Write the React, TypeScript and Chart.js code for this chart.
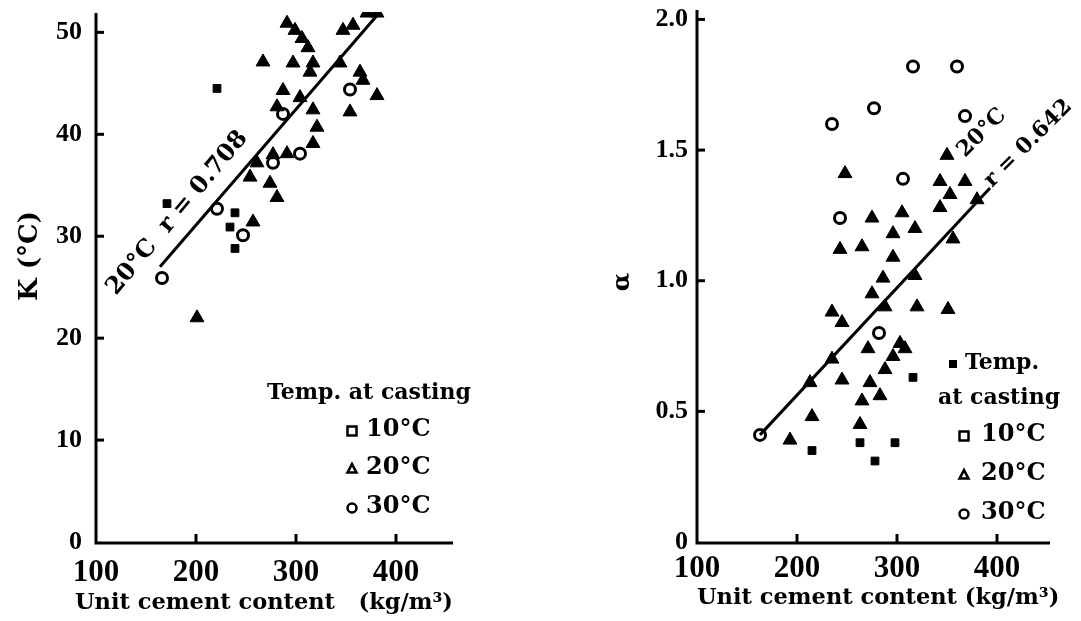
import React, { useEffect, useRef } from "react";
import { Chart, registerables } from "chart.js";

Chart.register(...registerables);

const TICK_FONT = "'Liberation Serif', 'Times New Roman', serif";
const TEXT_FONT = "'DejaVu Serif', serif";

// ---- shared axis ticks ----
const xTickValues = [100, 200, 300, 400];
const leftYTickValues = [0, 10, 20, 30, 40, 50];
const rightYTickValues = [0, 0.5, 1.0, 1.5, 2.0];

// ---- left panel: K (°C) ----
const leftT10X = [221, 171, 239, 234, 239];
const leftT10Y = [44.5, 33.2, 32.3, 30.9, 28.8];

const leftT20X = [291, 299, 306, 312, 267, 297, 317, 314, 344, 347, 357, 371, 381, 364, 367, 381, 354, 287, 281, 304, 317, 321, 317, 291, 277, 261, 254, 274, 281, 257, 201];
const leftT20Y = [50.9, 50.2, 49.4, 48.5, 47.1, 47.0, 47.0, 46.1, 47.0, 50.2, 50.7, 51.9, 51.9, 46.1, 45.3, 43.8, 42.2, 44.3, 42.7, 43.6, 42.4, 40.7, 39.1, 38.1, 38.0, 37.2, 35.8, 35.2, 33.8, 31.4, 22.0];

const leftT30X = [354, 287, 304, 277, 247, 221, 166];
const leftT30Y = [44.4, 42.0, 38.1, 37.2, 30.1, 32.7, 25.9];

const leftFitX = [164, 384];
const leftFitY = [27.0, 52.0];

// ---- right panel: alpha ----
const rightT10X = [215, 263, 298, 278, 316];
const rightT10Y = [0.35, 0.38, 0.38, 0.31, 0.63];

const rightT20X = [248, 350, 343, 368, 353, 343, 380, 275, 305, 296, 318, 356, 243, 265, 296, 286, 318, 275, 288, 320, 351, 235, 245, 271, 303, 308, 296, 235, 288, 245, 273, 283, 265, 215, 263, 193, 213];
const rightT20Y = [1.41, 1.48, 1.38, 1.38, 1.33, 1.28, 1.31, 1.24, 1.26, 1.18, 1.20, 1.16, 1.12, 1.13, 1.09, 1.01, 1.02, 0.95, 0.90, 0.90, 0.89, 0.88, 0.84, 0.74, 0.76, 0.74, 0.71, 0.70, 0.66, 0.62, 0.61, 0.56, 0.54, 0.48, 0.45, 0.39, 0.61];

const rightT30X = [316, 360, 277, 235, 368, 306, 243, 282, 163];
const rightT30Y = [1.82, 1.82, 1.66, 1.60, 1.63, 1.39, 1.24, 0.80, 0.41];

const rightFitX = [163, 393];
const rightFitY = [0.41, 1.355];

const legendLabels = ["10°C", "20°C", "30°C"];

function pts(xs: number[], ys: number[]) {
  return xs.map((x, i) => ({ x, y: ys[i] }));
}

function text(ctx: CanvasRenderingContext2D, s: string, x: number, y: number, size: number, opts: any = {}) {
  ctx.save();
  ctx.translate(x, y);
  if (opts.angle) ctx.rotate(opts.angle);
  ctx.font = `bold ${size}px ${opts.family || TEXT_FONT}`;
  ctx.fillStyle = "#000";
  ctx.textAlign = opts.align || "left";
  ctx.textBaseline = opts.baseline || "middle";
  ctx.fillText(s, 0, 0);
  ctx.restore();
}

function marker(ctx: CanvasRenderingContext2D, kind: string, x: number, y: number, r: number, filled = false) {
  ctx.save();
  ctx.strokeStyle = "#000";
  ctx.fillStyle = "#000";
  ctx.lineWidth = 2.5;
  ctx.beginPath();
  if (kind === "rect") ctx.rect(x - r, y - r, 2 * r, 2 * r);
  else if (kind === "triangle") {
    ctx.moveTo(x, y - r * 1.1);
    ctx.lineTo(x + r, y + r * 0.8);
    ctx.lineTo(x - r, y + r * 0.8);
    ctx.closePath();
  } else ctx.arc(x, y, r, 0, Math.PI * 2);
  if (filled) ctx.fill();
  else ctx.stroke();
  ctx.restore();
}

const DEG = Math.PI / 180;

function drawLeftText(ctx: CanvasRenderingContext2D) {
  text(ctx, "K (°C)", 30, 256, 26, { angle: -Math.PI / 2, align: "center" });
  text(ctx, "Temp. at casting", 267, 393, 22);
  const ys = [430, 468, 507];
  const kinds = ["rect", "triangle", "circle"];
  ys.forEach((y, i) => {
    marker(ctx, kinds[i], 352, y + 1, 4.5);
    text(ctx, legendLabels[i], 366, y, 24);
  });
  text(ctx, "Unit cement content   (kg/m³)", 75, 603, 22.5);
  text(ctx, "20°C  r = 0.708", 116, 296, 24, { angle: -50 * DEG, baseline: "alphabetic" });
}

function drawRightText(ctx: CanvasRenderingContext2D) {
  text(ctx, "α", 623, 282, 24, { angle: -Math.PI / 2, align: "center" });
  marker(ctx, "rect", 953, 364, 4, true);
  text(ctx, "Temp.", 965, 363, 22);
  text(ctx, "at casting", 938, 398, 22);
  const ys = [435, 474, 513];
  const kinds = ["rect", "triangle", "circle"];
  ys.forEach((y, i) => {
    marker(ctx, kinds[i], 964, y + 1, 4.5);
    text(ctx, legendLabels[i], 981, y, 24);
  });
  text(ctx, "Unit cement content (kg/m³)", 697, 598, 22.5);
  text(ctx, "20°C", 965, 158, 22, { angle: -45 * DEG, baseline: "alphabetic" });
  text(ctx, "r = 0.642", 992, 188, 22, { angle: -45 * DEG, baseline: "alphabetic" });
}

type PanelSpec = {
  canvasLeft: number;
  width: number;
  axisLeft: number;
  padRight: number;
  padTop: number;
  xMax: number;
  yMax: number;
  yTicks: number[];
  yFmt: (v: number) => string;
  yPad: number;
  xPad: number;
  series: { data: { x: number; y: number }[]; kind: string }[];
  fit: { x: number; y: number }[];
  drawText: (ctx: CanvasRenderingContext2D) => void;
};

function Panel({ spec }: { spec: PanelSpec }) {
  const ref = useRef<HTMLCanvasElement>(null);
  useEffect(() => {
    const canvas = ref.current!;
    const decor = {
      id: "decor",
      afterDraw(chart: any) {
        const ctx: CanvasRenderingContext2D = chart.ctx;
        const { left, right, top, bottom } = chart.chartArea;
        const xs = chart.scales.x;
        const ys = chart.scales.y;
        ctx.save();
        ctx.strokeStyle = "#000";
        ctx.lineWidth = 3;
        ctx.beginPath();
        ctx.moveTo(left, top + 1);
        ctx.lineTo(left, bottom + 1);
        ctx.lineTo(right, bottom + 1);
        ctx.stroke();
        xTickValues.forEach((v) => {
          if (v === xs.min) return;
          const px = xs.getPixelForValue(v);
          ctx.beginPath();
          ctx.moveTo(px, bottom);
          ctx.lineTo(px, bottom - 8);
          ctx.stroke();
        });
        spec.yTicks.forEach((v) => {
          if (v === 0) return;
          const py = ys.getPixelForValue(v);
          ctx.beginPath();
          ctx.moveTo(left, py);
          ctx.lineTo(left + 8, py);
          ctx.stroke();
        });
        ctx.translate(-spec.canvasLeft, 0);
        spec.drawText(ctx);
        ctx.restore();
      },
    };
    const styleOf = (kind: string) => {
      if (kind === "circle")
        return { pointStyle: "circle", pointRadius: 5.5, pointBackgroundColor: "#fff", pointBorderColor: "#000", pointBorderWidth: 3 };
      if (kind === "triangle")
        return { pointStyle: "triangle", pointRadius: 8, pointBackgroundColor: "#000", pointBorderColor: "#000", pointBorderWidth: 1 };
      return { pointStyle: "rect", pointRadius: 5.5, pointBackgroundColor: "#000", pointBorderColor: "#000", pointBorderWidth: 1 };
    };
    const chart = new Chart(canvas, {
      type: "scatter",
      data: {
        datasets: [
          {
            type: "line",
            data: spec.fit,
            borderColor: "#000",
            borderWidth: 3,
            pointRadius: 0,
            showLine: true,
            fill: false,
          } as any,
          ...spec.series.map((s) => ({ data: s.data, ...styleOf(s.kind) })),
        ],
      },
      options: {
        animation: false,
        responsive: false,
        events: [],
        layout: { padding: { left: 0, right: spec.padRight, top: spec.padTop, bottom: 0 } },
        plugins: { legend: { display: false }, tooltip: { enabled: false } },
        scales: {
          x: {
            type: "linear",
            min: 100,
            max: spec.xMax,
            afterFit: (s: any) => {
              s.height = 621 - 542;
              s.paddingLeft = 0;
              s.paddingRight = 0;
            },
            afterBuildTicks: (s: any) => {
              s.ticks = xTickValues.map((v) => ({ value: v }));
            },
            grid: { display: false, drawTicks: false },
            border: { display: false },
            ticks: {
              padding: spec.xPad,
              color: "#000",
              maxRotation: 0,
              autoSkip: false,
              font: { family: TICK_FONT, size: 31, weight: "bold" },
            },
          },
          y: {
            type: "linear",
            min: 0,
            max: spec.yMax,
            afterFit: (s: any) => {
              s.width = spec.axisLeft;
              s.paddingTop = 0;
              s.paddingBottom = 0;
            },
            afterBuildTicks: (s: any) => {
              s.ticks = spec.yTicks.map((v) => ({ value: v }));
            },
            grid: { display: false, drawTicks: false },
            border: { display: false },
            ticks: {
              padding: spec.yPad,
              color: "#000",
              autoSkip: false,
              callback: (v: any) => spec.yFmt(Number(v)),
              font: { family: TICK_FONT, size: 26, weight: "bold" },
            },
          },
        },
      } as any,
      plugins: [decor],
    });
    return () => chart.destroy();
  }, [spec]);
  return (
    <canvas
      ref={ref}
      width={spec.width}
      height={621}
      style={{ position: "absolute", left: spec.canvasLeft, top: 0, width: spec.width, height: 621 }}
    />
  );
}

const leftSpec: PanelSpec = {
  canvasLeft: 0,
  width: 540,
  axisLeft: 96,
  padRight: 87,
  padTop: 12,
  xMax: 457,
  yMax: 52,
  yTicks: leftYTickValues,
  yFmt: (v) => String(v),
  yPad: 14,
  xPad: 12,
  series: [
    { data: pts(leftT10X, leftT10Y), kind: "rect" },
    { data: pts(leftT20X, leftT20Y), kind: "triangle" },
    { data: pts(leftT30X, leftT30Y), kind: "circle" },
  ],
  fit: pts(leftFitX, leftFitY),
  drawText: drawLeftText,
};

const rightSpec: PanelSpec = {
  canvasLeft: 540,
  width: 541,
  axisLeft: 157,
  padRight: 31,
  padTop: 8,
  xMax: 453,
  yMax: 2.04,
  yTicks: rightYTickValues,
  yFmt: (v) => (v === 0 ? "0" : v.toFixed(1)),
  yPad: 9,
  xPad: 8,
  series: [
    { data: pts(rightT10X, rightT10Y), kind: "rect" },
    { data: pts(rightT20X, rightT20Y), kind: "triangle" },
    { data: pts(rightT30X, rightT30Y), kind: "circle" },
  ],
  fit: pts(rightFitX, rightFitY),
  drawText: drawRightText,
};

export default function App() {
  return (
    <div style={{ position: "fixed", left: 0, top: 0, width: 1081, height: 621, background: "#fff" }}>
      <Panel spec={leftSpec} />
      <Panel spec={rightSpec} />
    </div>
  );
}
